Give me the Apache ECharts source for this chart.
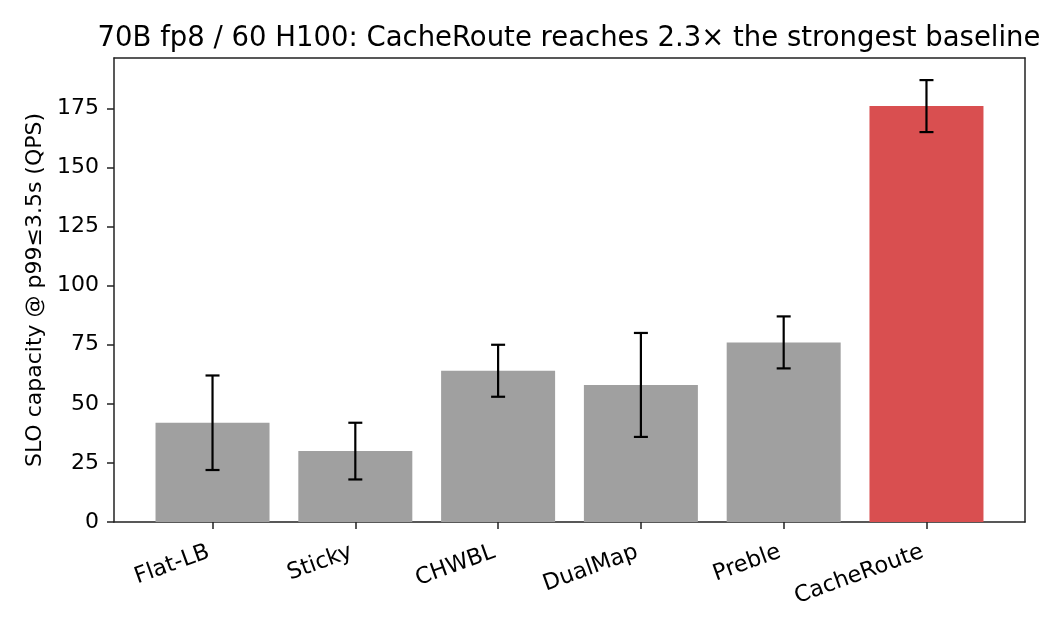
<!DOCTYPE html>
<html>
<head>
<meta charset="utf-8">
<script src="https://cdn.jsdelivr.net/npm/echarts@6/dist/echarts.min.js"></script>
<style>
  html, body { margin: 0; padding: 0; background: #fff; }
  #chart { width: 1050px; height: 630px; }
</style>
</head>
<body>
<div id="chart"></div>
<script>
// routing policies, SLO capacity (QPS) and error half-widths
var policies = ['Flat-LB', 'Sticky', 'CHWBL', 'DualMap', 'Preble', 'CacheRoute'];
var capacity = [42, 30, 64, 58, 76, 176];
var errors = [20, 12, 11, 22, 11, 11];
var highlight = 'CacheRoute';
var yTicks = [0, 25, 50, 75, 100, 125, 150, 175];

var font = 'DejaVu Sans';
var idx = policies.map(function (p, i) { return i; });

// matplotlib-like autoscaling: bars width 0.8, 5% margins
var xMin = -0.4 - 0.05 * (policies.length - 1 + 0.8);
var xMax = policies.length - 1 + 0.4 + 0.05 * (policies.length - 1 + 0.8);
var dataTop = Math.max.apply(null, capacity.map(function (v, i) { return v + errors[i]; }));
var yMax = dataTop * 1.05;

var spine = { show: true, onZero: false, lineStyle: { color: '#222', width: 1.5 } };

var chart = echarts.init(document.getElementById('chart'));
var option = {
    animation: false,
    textStyle: { fontFamily: font },
    title: {
        text: '70B fp8 / 60 H100: CacheRoute reaches 2.3\u00d7 the strongest baseline',
        left: 564, top: 20, textAlign: 'center',
        textStyle: { fontFamily: font, fontSize: 27.5, fontWeight: 'normal', color: '#000' }
    },
    grid: { left: 114, right: 25, top: 58, bottom: 108 },
    xAxis: [{
        type: 'value',
        min: xMin, max: xMax,
        splitLine: { show: false },
        axisLine: spine,
        axisTick: { show: true, length: 7, customValues: idx, lineStyle: { color: '#222', width: 1.5 } },
        axisLabel: {
            customValues: idx, rotate: 20, margin: 28,
            padding: [0, 4, 0, 0],
            fontSize: 22.5, color: '#000', fontFamily: font,
            formatter: function (v) { return policies[Math.round(v)]; }
        }
    }, {
        type: 'value', position: 'top',
        min: xMin, max: xMax,
        splitLine: { show: false },
        axisLine: spine,
        axisTick: { show: false }, axisLabel: { show: false }
    }],
    yAxis: [{
        type: 'value',
        min: 0, max: yMax,
        name: 'SLO capacity @ p99\u22643.5s (QPS)',
        nameLocation: 'middle', nameGap: 66,
        nameTextStyle: { fontSize: 22, color: '#000', fontFamily: font },
        splitLine: { show: false },
        axisLine: spine,
        axisTick: { show: true, length: 7, customValues: yTicks, lineStyle: { color: '#222', width: 1.5 } },
        axisLabel: {
            fontSize: 22, color: '#000', margin: 15, fontFamily: font,
            customValues: yTicks
        }
    }, {
        type: 'value', position: 'right',
        min: 0, max: yMax,
        splitLine: { show: false },
        axisLine: spine,
        axisTick: { show: false }, axisLabel: { show: false }
    }],
    series: [{
        type: 'bar',
        barWidth: 114,
        data: capacity.map(function (v, i) {
            return {
                value: [i, v],
                itemStyle: { color: policies[i] === highlight ? '#d94f50' : '#a0a0a0' }
            };
        })
    }, {
        type: 'custom',
        z: 10,
        data: capacity.map(function (v, i) { return [i, v - errors[i], v + errors[i]]; }),
        renderItem: function (params, api) {
            var lo = api.coord([api.value(0), api.value(1)]);
            var hi = api.coord([api.value(0), api.value(2)]);
            var cap = 7;
            var st = { stroke: '#000', lineWidth: 2.2 };
            return {
                type: 'group',
                children: [
                    { type: 'line', shape: { x1: lo[0], y1: lo[1], x2: hi[0], y2: hi[1] }, style: st },
                    { type: 'line', shape: { x1: lo[0] - cap, y1: lo[1], x2: lo[0] + cap, y2: lo[1] }, style: st },
                    { type: 'line', shape: { x1: hi[0] - cap, y1: hi[1], x2: hi[0] + cap, y2: hi[1] }, style: st }
                ]
            };
        }
    }]
};
chart.setOption(option);
</script>
</body>
</html>
